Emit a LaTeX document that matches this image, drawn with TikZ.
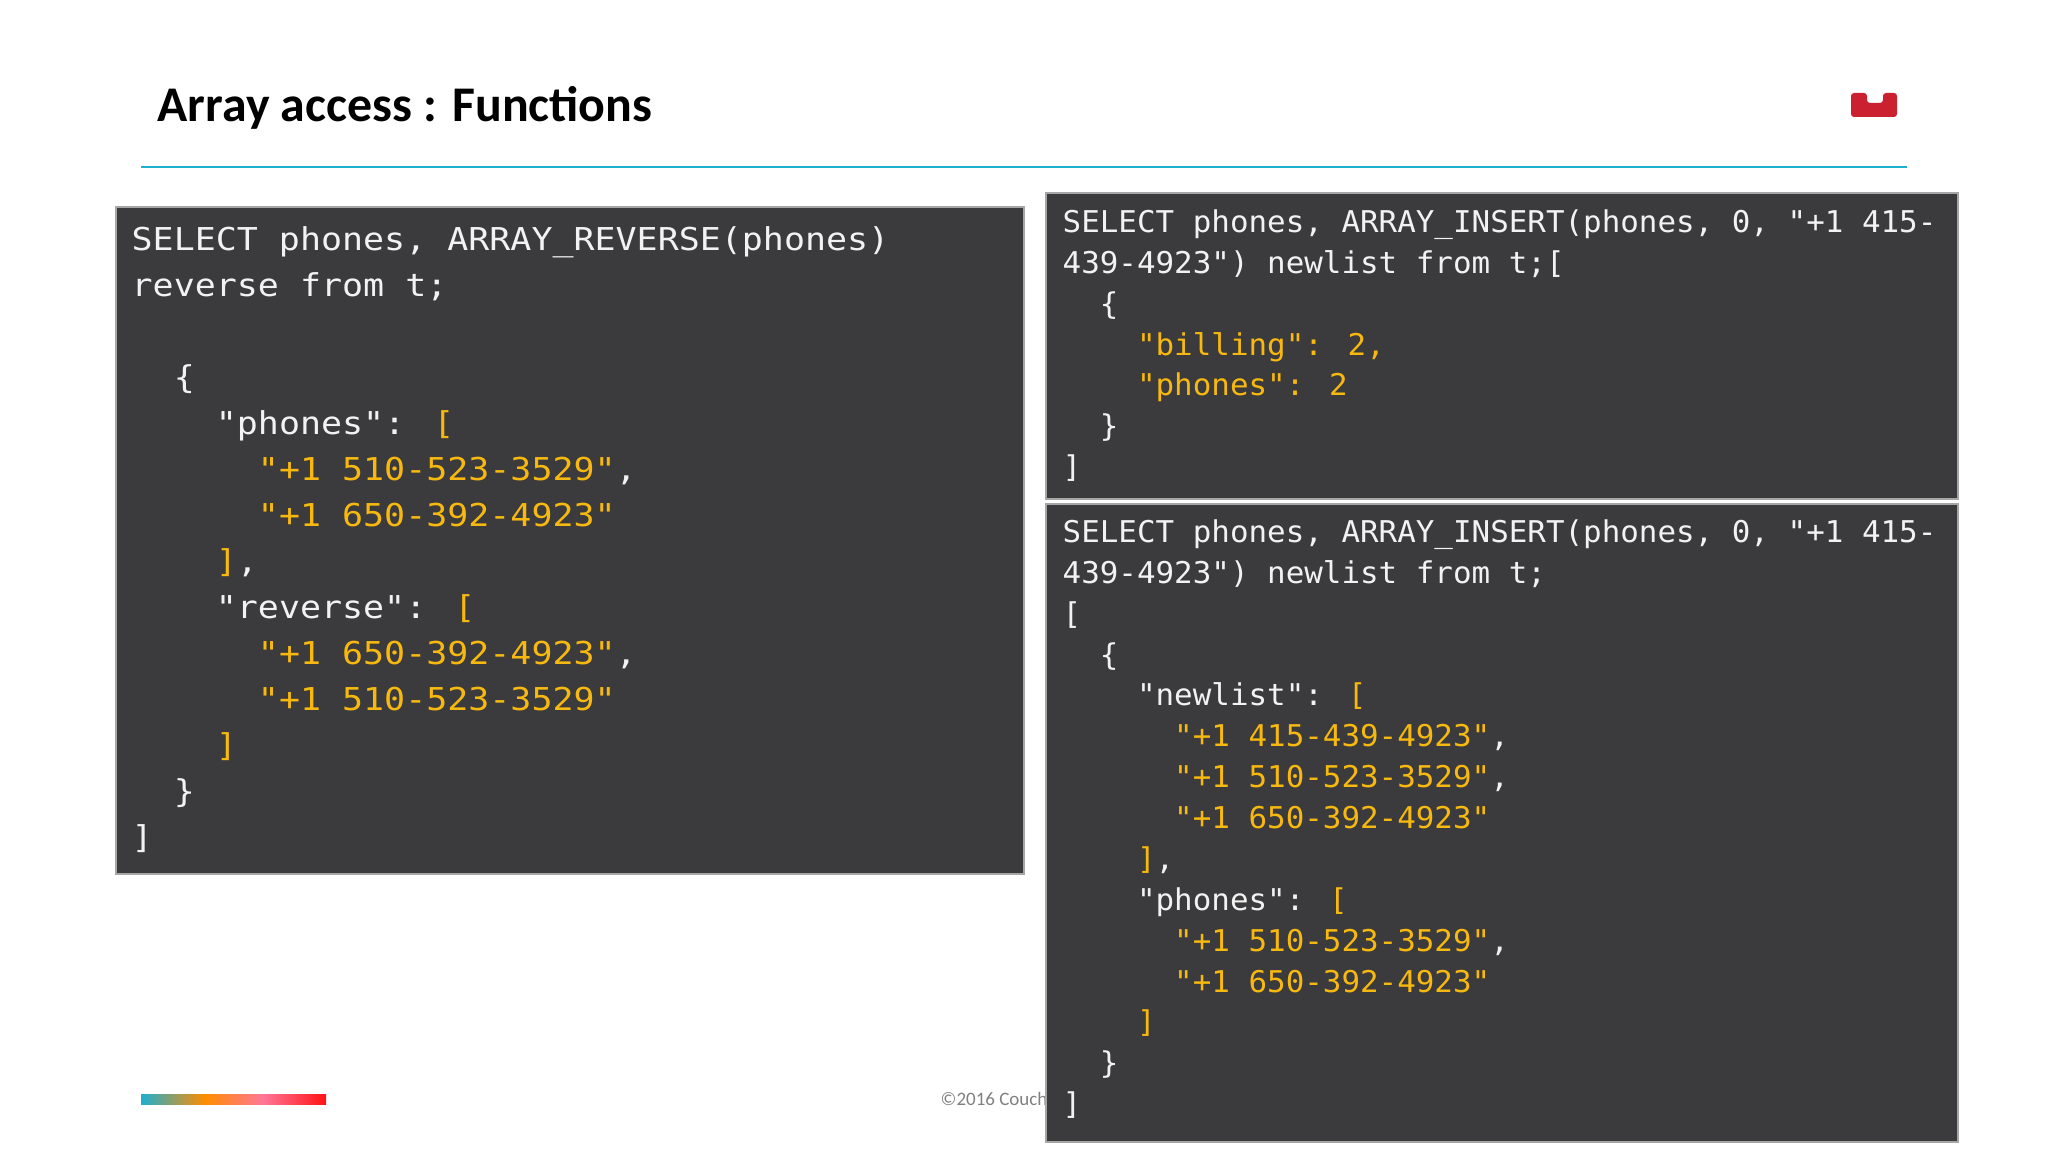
\documentclass[tikz,border=0pt]{standalone}
\usepackage{fontspec}
\setmainfont{Carlito}
\newfontfamily\leftcode{DejaVu Sans Mono}[FakeStretch=1.11]
\newfontfamily\rightcode{DejaVu Sans Mono}[FakeStretch=1.03]
\definecolor{codebg}{HTML}{3B3A3C}
\definecolor{codegold}{HTML}{F7B90F}
\definecolor{coderule}{HTML}{1DB0CF}
\definecolor{logored}{HTML}{CB2030}
\newcommand{\gold}[1]{\textcolor{codegold}{#1}}
\newcommand{\tw}{\hphantom{xx}}
\tikzset{
	codebox/.style={fill=codebg,draw=gray!70,line width=0.02cm},
	codetext/.style={anchor=north west,inner sep=0pt,align=left,text=white!95!black},
	bigcode/.style={codetext,font=\leftcode\fontsize{8.96}{13.09}\selectfont},
	smallcode/.style={codetext,font=\rightcode\fontsize{8.53}{11.63}\selectfont}
}

\begin{document}
\begin{tikzpicture}
		\useasboundingbox (0,0) rectangle (20.48,11.52);
		\node[anchor=base west,inner sep=0pt,font=\bfseries\fontsize{14.2}{16}\selectfont] (title) at (1.57,10.30) {Array access : Functions};
		\draw[coderule,line width=0.025cm] (1.41,9.85) -- (19.07,9.85);
		\fill[logored,rounded corners=0.03cm] (18.51,10.59) -- (18.51,10.35) -- (18.97,10.35) -- (18.97,10.59) -- (18.83,10.59) -- (18.83,10.49) -- (18.67,10.49) -- (18.67,10.59) -- cycle;
		\shade[left color=coderule,right color=orange!90!yellow] (1.41,0.47) rectangle (2.05,0.57);
		\shade[left color=orange!90!yellow,right color=pink!60!magenta!70!orange] (2.05,0.47) rectangle (2.63,0.57);
		\shade[left color=pink!60!magenta!70!orange,right color=red!90!pink] (2.63,0.47) rectangle (3.26,0.57);
		\node[anchor=west,inner sep=0pt,text=gray,font=\fontsize{5.4}{6}\selectfont] (copyright) at (9.40,0.53) {©2016 Couchb};
		% code panels
		\filldraw[codebox] (1.16,2.78) rectangle (10.24,9.45);
		\filldraw[codebox] (10.46,6.53) rectangle (19.58,9.59);
		\filldraw[codebox] (10.46,0.10) rectangle (19.58,6.48);
		\node[bigcode] (reversecode) at (1.31,9.26) {%
			SELECT phones, ARRAY\_REVERSE(phones)\\
			reverse from t;\\
			\\
			\tw\{\\
			\tw\tw"phones": \gold{[}\\
			\tw\tw\tw\gold{"+1 510-523-3529"},\\
			\tw\tw\tw\gold{"+1 650-392-4923"}\\
			\tw\tw\gold{]},\\
			\tw\tw"reverse": \gold{[}\\
			\tw\tw\tw\gold{"+1 650-392-4923"},\\
			\tw\tw\tw\gold{"+1 510-523-3529"}\\
			\tw\tw\gold{]}\\
			\tw\}\\
			{]}};
		\node[smallcode] (countcode) at (10.62,9.43) {%
			SELECT phones, ARRAY\_INSERT(phones, 0, "+1 415-\\
			439-4923") newlist from t;{[}\\
			\tw\{\\
			\tw\tw\gold{"billing": 2,}\\
			\tw\tw\gold{"phones": 2}\\
			\tw\}\\
			{]}};
		\node[smallcode] (insertcode) at (10.62,6.33) {%
			SELECT phones, ARRAY\_INSERT(phones, 0, "+1 415-\\
			439-4923") newlist from t;\\
			{[}\\
			\tw\{\\
			\tw\tw"newlist": \gold{[}\\
			\tw\tw\tw\gold{"+1 415-439-4923"},\\
			\tw\tw\tw\gold{"+1 510-523-3529"},\\
			\tw\tw\tw\gold{"+1 650-392-4923"}\\
			\tw\tw\gold{]},\\
			\tw\tw"phones": \gold{[}\\
			\tw\tw\tw\gold{"+1 510-523-3529"},\\
			\tw\tw\tw\gold{"+1 650-392-4923"}\\
			\tw\tw\gold{]}\\
			\tw\}\\
			{]}};
	\end{tikzpicture}
\end{document}
